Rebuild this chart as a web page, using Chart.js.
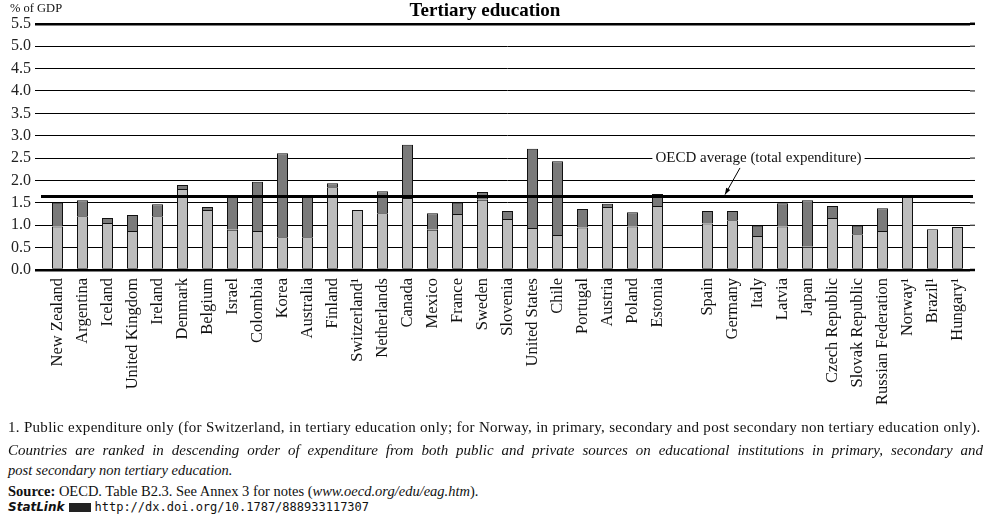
<!DOCTYPE html>
<html>
<head>
<meta charset="utf-8">
<script src="https://cdn.jsdelivr.net/npm/chart.js@4.4.1/dist/chart.umd.min.js"></script>
<style>
  body { margin: 0; background: #fff; font-family: "Liberation Serif", "DejaVu Serif", serif; color: #111; }
  #wrap { position: relative; width: 999px; height: 522px; overflow: hidden; }
  #chartBox { position: absolute; left: 0; top: 0; width: 999px; height: 420px; }
  #unit { position: absolute; left: 10px; top: 1px; font-size: 12.5px; }
  .note { position: absolute; left: 8px; font-size: 14px; white-space: nowrap; }
  #n1 { top: 419px; font-size: 15px; letter-spacing: 0.3px; }
  #n2 { top: 442px; width: 975px; font-style: italic; font-size: 15px; text-align: justify; text-align-last: justify; }
  #n2b { top: 462px; font-style: italic; font-size: 14.5px; }
  #n3 { top: 483px; font-size: 14.5px; }
  #n4 { top: 500px; font-size: 12px; }
  #n4 .sl { font-family: "DejaVu Sans", sans-serif; font-weight: bold; font-style: italic; font-size: 12px; }
  #n4 .ic { display: inline-block; width: 22px; height: 9px; background: #222; margin: 0 4px; vertical-align: -1px; }
  #n4 .url { font-family: "DejaVu Sans Mono", monospace; font-size: 12px; }
</style>
</head>
<body>
<div id="wrap">
  <div id="chartBox"><canvas id="eduChart"></canvas></div>
  <div id="unit">% of GDP</div>
  <div class="note" id="n1">1. Public expenditure only (for Switzerland, in tertiary education only; for Norway, in primary, secondary and post secondary non tertiary education only).</div>
  <div class="note" id="n2">Countries are ranked in descending order of expenditure from both public and private sources on educational institutions in primary, secondary and</div>
  <div class="note" id="n2b">post secondary non tertiary education.</div>
  <div class="note" id="n3"><b>Source:</b> OECD. Table B2.3. See Annex 3 for notes (<i>www.oecd.org/edu/eag.htm</i>).</div>
  <div class="note" id="n4"><span class="sl">StatLink</span><span class="ic"></span><span class="url">http://dx.doi.org/10.1787/888933117307</span></div>
</div>
<script>
// categories (empty slot = gap between the two country groups)
const countries = ['New Zealand', 'Argentina', 'Iceland', 'United Kingdom', 'Ireland', 'Denmark', 'Belgium', 'Israel',
    'Colombia', 'Korea', 'Australia', 'Finland', 'Switzerland¹', 'Netherlands', 'Canada', 'Mexico', 'France',
    'Sweden', 'Slovenia', 'United States', 'Chile', 'Portugal', 'Austria', 'Poland', 'Estonia', '',
    'Spain', 'Germany', 'Italy', 'Latvia', 'Japan', 'Czech Republic', 'Slovak Republic', 'Russian Federation',
    'Norway¹', 'Brazil¹', 'Hungary¹'];

const publicExpenditure = [0.97, 1.20, 1.05, 0.87, 1.20, 1.81, 1.34, 0.90, 0.87, 0.73, 0.73, 1.85, 1.34, 1.27,
    1.61, 0.90, 1.25, 1.57, 1.14, 0.94, 0.78, 0.95, 1.41, 0.97, 1.43, null,
    1.04, 1.11, 0.76, 0.97, 0.52, 1.16, 0.80, 0.87, 1.67, 0.91, 0.96];

const privateExpenditure = [0.53, 0.36, 0.11, 0.36, 0.27, 0.09, 0.07, 0.73, 1.10, 1.88, 0.90, 0.09, null, 0.49,
    1.19, 0.37, 0.25, 0.17, 0.18, 1.77, 1.65, 0.41, 0.07, 0.32, 0.27, null,
    0.28, 0.21, 0.23, 0.52, 1.04, 0.27, 0.19, 0.51, null, null, null];

const oecdAverage = 1.64;
const yTicks = [0, 0.5, 1, 1.5, 2, 2.5, 3, 3.5, 4, 4.5, 5, 5.5];

const averagePlugin = {
    id: 'averageLine',
    afterDatasetsDraw(chart) {
        const ctx = chart.ctx;
        const area = chart.chartArea;
        const x = chart.scales.x;
        const y = chart.scales.y;
        ctx.save();
        // grid lines run a little past the plot on the right
        ctx.strokeStyle = '#000';
        y.ticks.forEach(t => {
            const py = y.getPixelForValue(t.value);
            ctx.lineWidth = (t.value === 0 || t.value === 5.5) ? 2.5 : 1;
            ctx.beginPath();
            ctx.moveTo(area.right, py);
            ctx.lineTo(area.right + 5, py);
            ctx.stroke();
        });
        // OECD average line
        const ay = y.getPixelForValue(oecdAverage);
        ctx.lineWidth = 3;
        ctx.beginPath();
        ctx.moveTo(area.left - 4, ay);
        ctx.lineTo(area.right + 3, ay);
        ctx.stroke();
        // label sitting on the 2.5 grid line
        const label = 'OECD average (total expenditure)';
        ctx.font = '15px "Liberation Serif", serif';
        const ly = y.getPixelForValue(2.5);
        const lx = x.getPixelForValue(28) + 1;
        const w = ctx.measureText(label).width;
        ctx.fillStyle = '#fff';
        ctx.fillRect(lx - w / 2 - 3, ly - 8, w + 6, 16);
        ctx.fillStyle = '#111';
        ctx.textAlign = 'center';
        ctx.textBaseline = 'middle';
        ctx.fillText(label, lx, ly);
        // arrow
        const x0 = x.getPixelForValue(27.3), y0 = y.getPixelForValue(2.28);
        const x1 = x.getPixelForValue(26.7), y1 = ay - 2;
        ctx.lineWidth = 1;
        ctx.beginPath();
        ctx.moveTo(x0, y0);
        ctx.lineTo(x1, y1);
        ctx.stroke();
        const ang = Math.atan2(y1 - y0, x1 - x0);
        ctx.beginPath();
        ctx.moveTo(x1, y1);
        ctx.lineTo(x1 - 7 * Math.cos(ang - 0.35), y1 - 7 * Math.sin(ang - 0.35));
        ctx.lineTo(x1 - 7 * Math.cos(ang + 0.35), y1 - 7 * Math.sin(ang + 0.35));
        ctx.closePath();
        ctx.fillStyle = '#000';
        ctx.fill();
        ctx.restore();
    }
};

const eduData = {
    labels: countries,
    datasets: [
        {
            label: 'Public',
            data: publicExpenditure,
            backgroundColor: '#bdbdbd',
            borderColor: '#111',
            borderWidth: 1,
            borderSkipped: false,
            barPercentage: 0.44,
            categoryPercentage: 1
        },
        {
            label: 'Private',
            data: privateExpenditure,
            backgroundColor: '#7a7a7a',
            borderColor: '#111',
            borderWidth: 1,
            borderSkipped: 'bottom',
            barPercentage: 0.44,
            categoryPercentage: 1
        }
    ]
};

const eduConfig = {
    type: 'bar',
    data: eduData,
    plugins: [averagePlugin],
    options: {
        responsive: true,
        maintainAspectRatio: false,
        animation: false,
        layout: { padding: { left: 0, right: 29, top: 0, bottom: 0 } },
        plugins: {
            legend: { display: false },
            tooltip: { enabled: false },
            title: {
                display: true,
                text: 'Tertiary education',
                color: '#000',
                font: { family: '"Liberation Serif", serif', size: 19, weight: 'bold' },
                padding: { top: 0, bottom: 1 }
            }
        },
        scales: {
            x: {
                stacked: true,
                offset: true,
                grid: { display: false },
                border: { display: false },
                afterFit: s => { s.height = 150; },
                ticks: {
                    autoSkip: false,
                    maxRotation: 90,
                    minRotation: 90,
                    padding: 0,
                    color: '#111',
                    font: { family: '"Liberation Serif", serif', size: 16.5 }
                }
            },
            y: {
                stacked: true,
                min: 0,
                max: 5.5,
                afterFit: s => { s.width = 45; },
                afterBuildTicks: s => { s.ticks = yTicks.map(v => ({ value: v })); },
                border: { display: false },
                grid: {
                    color: '#000',
                    lineWidth: c => (c.tick && (c.tick.value === 0 || c.tick.value === 5.5)) ? 2.5 : 1,
                    tickLength: 10,
                    tickColor: '#000'
                },
                ticks: {
                    padding: 4,
                    color: '#222',
                    font: { family: '"Liberation Serif", serif', size: 16 },
                    callback: v => v.toFixed(1)
                }
            }
        }
    }
};

const eduChart = new Chart(document.getElementById('eduChart'), eduConfig);
</script>
</body>
</html>
